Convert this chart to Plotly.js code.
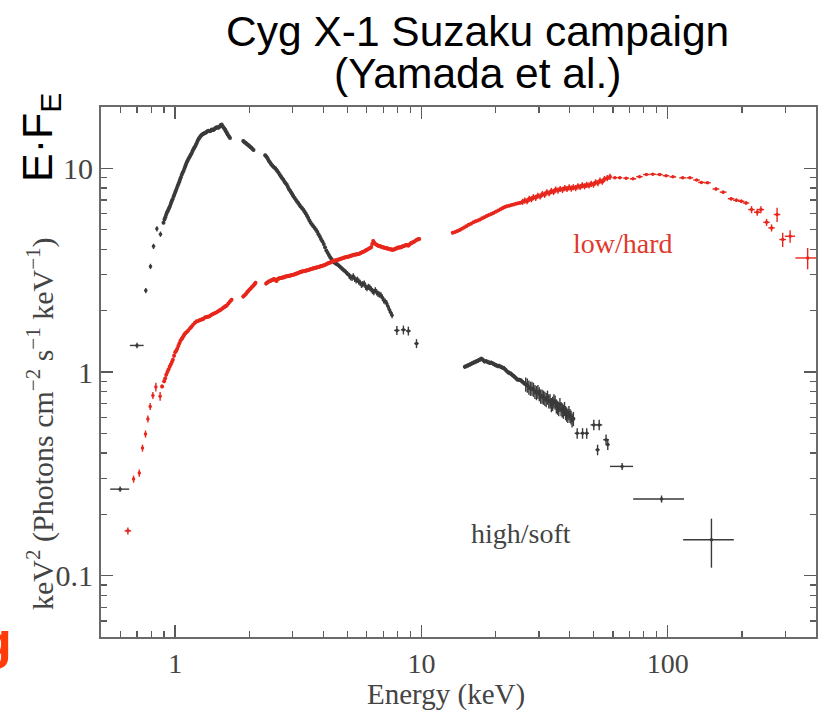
<!DOCTYPE html>
<html>
<head>
<meta charset="utf-8">
<script src="https://cdn.plot.ly/plotly-3.0.1.min.js"></script>
<style>html,body{margin:0;padding:0;background:#fff;}</style>
</head>
<body>
<div id="chart" style="width:819px;height:710px;"></div>
<script>
// Cyg X-1 broadband spectra (Suzaku XIS / HXD-PIN / HXD-GSO), E^2 F(E) in keV^2 photons cm^-2 s^-1 keV^-1

// ---------- high/soft state ----------
// XIS low-energy edge bins: energy (keV), flux, fractional flux error, energy half-width (keV)
const softEdgeE    = [0.598, 0.700, 0.760, 0.794, 0.817, 0.843, 0.872];
const softEdgeF    = [0.266, 1.35, 2.51, 3.30, 4.14, 5.05, 4.75];
const softEdgeFerr = [0.03, 0.03, 0.03, 0.03, 0.03, 0.03, 0.03];
const softEdgeEerr = [0.053, 0.045, 0.008, 0.008, 0.008, 0.008, 0.008];

// XIS continuum (percent error below)
const softXisE = [0.897,0.905,0.912,0.918,0.925,0.932,0.940,0.947,0.954,0.961,0.968,0.976,0.985,0.992,1.000,1.008,1.016,1.024,1.032,1.040,
  1.047,1.055,1.064,1.072,1.081,1.090,1.098,1.106,1.115,1.123,1.132,1.141,1.150,1.159,1.168,1.177,1.186,1.195,1.205,1.214,
  1.224,1.233,1.243,1.253,1.263,1.273,1.283,1.293,1.303,1.313,1.323,1.333,1.344,1.354,1.365,1.375,1.386,1.397,1.408,1.419,
  1.430,1.441,1.452,1.463,1.475,1.486,1.498,1.509,1.520,1.532,1.545,1.557,1.570,1.582,1.595,1.607,1.620,1.632,1.645,1.657,
  1.670,1.890,1.905,1.920,1.935,1.950,1.965,1.980,1.995,2.010,2.025,2.040,2.060,2.080,2.320,2.340,2.360,2.380,2.400,2.425,
  2.450,2.475,2.500,2.525,2.550,2.575,2.600,2.630,2.660,2.690,2.720,2.750,2.780,2.810,2.840,2.870,2.900,2.930,2.960,2.990,
  3.020,3.055,3.090,3.125,3.160,3.195,3.230,3.270,3.310,3.350,3.390,3.430,3.470,3.510,3.550,3.595,3.640,3.685,3.730,3.775,
  3.820,3.865,3.910,3.960,4.010,4.060,4.110,4.160,4.210,4.265,4.320,4.375,4.430,4.485,4.540,4.600,4.660,4.720,4.780,4.840,
  4.900,4.965,5.030];
const softXisF = [5.40,5.60,5.75,5.90,6.04,6.15,6.30,6.42,6.55,6.72,6.90,7.05,7.25,7.42,7.60,7.80,8.00,8.20,8.40,8.60,
  8.80,9.05,9.30,9.50,9.70,9.95,10.2,10.45,10.7,10.9,11.1,11.3,11.5,11.7,11.9,12.15,12.4,12.6,12.8,13.05,
  13.3,13.6,13.9,14.1,14.3,14.45,14.6,14.7,14.8,14.85,14.9,15.0,15.1,15.2,15.3,15.25,15.2,15.35,15.5,15.45,
  15.4,15.55,15.7,15.8,15.9,15.85,15.8,15.95,16.1,16.3,16.4,16.1,15.9,15.7,15.5,15.2,15.0,14.7,14.5,14.3,
  14.1,13.6,13.5,13.4,13.3,13.2,13.1,13.0,12.9,12.8,12.7,12.6,12.45,12.3,11.6,11.45,11.3,11.1,10.9,10.7,
  10.5,10.35,10.2,10.1,10.0,9.85,9.70,9.50,9.30,9.12,8.95,8.78,8.60,8.45,8.30,8.10,7.90,7.75,7.60,7.45,
  7.30,7.15,7.00,6.88,6.75,6.62,6.50,6.39,6.28,6.14,6.00,5.85,5.70,5.55,5.40,5.30,5.20,5.10,5.00,4.88,
  4.75,4.62,4.50,4.38,4.25,4.10,3.95,3.85,3.75,3.66,3.58,3.51,3.45,3.41,3.38,3.34,3.30,3.25,3.20,3.16,
  3.12,3.07,3.02];
const softXisPct = 1.6;

// XIS high-energy end, larger errors
const softXisTailE    = [5.10,5.16,5.23,5.29,5.36,5.43,5.50,5.57,5.64,5.71,5.78,5.86,5.94,6.01,6.09,6.17,6.25,6.33,6.41,6.50,
  6.58,6.67,6.76,6.85,6.94,7.03,7.12,7.22,7.31,7.41,7.50,7.60,7.95,8.45,8.85,9.55];
const softXisTailF    = [2.96,2.92,2.90,2.95,2.87,2.82,2.84,2.78,2.74,2.68,2.70,2.72,2.62,2.58,2.62,2.60,2.55,2.50,2.47,2.52,
  2.46,2.42,2.40,2.38,2.32,2.25,2.22,2.18,2.10,2.02,1.96,1.90,1.60,1.61,1.59,1.38];
const softXisTailFerr = [0.035,0.035,0.035,0.035,0.035,0.035,0.035,0.035,0.035,0.035,0.035,0.035,0.035,0.035,0.035,0.035,0.035,0.035,0.035,0.035,
  0.035,0.035,0.035,0.035,0.035,0.035,0.035,0.035,0.035,0.035,0.035,0.035,0.05,0.05,0.05,0.05];
const softXisTailEerr = [0,0,0,0,0,0,0,0,0,0,0,0,0,0,0,0,0,0,0,0,
  0,0,0,0,0,0,0,0,0,0,0,0,0.2,0.2,0.2,0.2];

// PIN, smooth part and noisy part
const softPinE = [15.0,15.25,15.5,15.75,16.0,16.25,16.5,16.75,17.0,17.25,17.5,17.75,18.0,18.3,18.6,18.9,19.2,19.5,19.8,20.1,
  20.4,20.7,21.0,21.35,21.7,22.05,22.4,22.75,23.1,23.45,23.8,24.15,24.5,24.9,25.3,25.7,26.1];
const softPinF = [1.06,1.07,1.08,1.09,1.10,1.11,1.12,1.13,1.14,1.15,1.16,1.15,1.13,1.13,1.12,1.11,1.11,1.10,1.09,1.08,
  1.07,1.07,1.06,1.05,1.04,1.02,1.00,0.99,0.98,0.965,0.95,0.935,0.92,0.915,0.91,0.895,0.88];
const softPinPct = 2.5;
const softPinNoisyE = [26.5,26.9,27.3,27.7,28.1,28.5,28.9,29.3,29.7,30.1,30.5,30.9,31.3,31.7,32.1,32.5,32.9,33.3,33.7,34.1,
  34.5,34.9,35.3,35.7,36.1,36.5,36.9,37.3,37.7,38.1,38.5,38.9,39.3,39.7,40.1,40.5,40.9,41.4];
const softPinNoisyF = [0.87,0.86,0.84,0.83,0.83,0.82,0.80,0.79,0.80,0.78,0.76,0.76,0.75,0.74,0.73,0.75,0.72,0.72,0.69,0.70,
  0.72,0.71,0.68,0.67,0.66,0.69,0.66,0.65,0.64,0.66,0.63,0.62,0.61,0.63,0.61,0.60,0.58,0.59];
const softPinNoisyPct = 8;

// PIN high end and GSO bins
const softHighE    = [42.9, 45.1, 46.9, 50.1, 52.7, 51.9, 56.2, 57.1, 65.3, 94.4, 150.5];
const softHighF    = [0.50, 0.50, 0.50, 0.55, 0.55, 0.415, 0.465, 0.44, 0.344, 0.238, 0.150];
const softHighFerr = [0.06, 0.06, 0.06, 0.06, 0.06, 0.06, 0.06, 0.06, 0.04, 0.04, 0.27];
const softHighEerr = [1.0, 1.0, 1.0, 1.5, 1.5, 1.0, 1.5, 1.0, 7, 22, 35];

// ---------- low/hard state ----------
const hardEdgeE    = [0.643, 0.678, 0.715, 0.737, 0.758, 0.775, 0.792, 0.812, 0.835, 0.869];
const hardEdgeF    = [0.166, 0.298, 0.319, 0.423, 0.496, 0.588, 0.678, 0.767, 0.844, 0.760];
const hardEdgeFerr = [0.04, 0.04, 0.04, 0.04, 0.04, 0.04, 0.04, 0.04, 0.05, 0.05];
const hardEdgeEerr = [0.02, 0.006, 0.006, 0.006, 0.006, 0.006, 0.006, 0.006, 0.006, 0.006];

const hardXisE = [0.885,0.902,0.911,0.920,0.930,0.940,0.950,0.960,0.970,0.979,0.990,1.000,1.010,1.020,1.030,1.040,1.050,1.060,1.070,1.080,
  1.090,1.100,1.115,1.130,1.150,1.165,1.180,1.200,1.220,1.240,1.260,1.280,1.300,1.320,1.340,1.360,1.380,1.405,1.430,1.455,
  1.480,1.505,1.530,1.555,1.580,1.600,1.620,1.645,1.670,1.695,1.890,1.915,1.940,1.960,1.980,2.005,2.030,2.055,2.080,2.100,
  2.120,2.340,2.370,2.400,2.430,2.460,2.490,2.520,2.550,2.580,2.610,2.640,2.670,2.700,2.735,2.770,2.805,2.840,2.875,2.910,
  2.945,2.980,3.020,3.060,3.100,3.140,3.180,3.220,3.260,3.300,3.345,3.390,3.435,3.480,3.525,3.570,3.615,3.660,3.710,3.760,
  3.810,3.860,3.910,3.960,4.015,4.070,4.125,4.180,4.235,4.290,4.350,4.410,4.470,4.530,4.590,4.650,4.715,4.780,4.845,4.910,
  4.975,5.040,5.110,5.180,5.250,5.320,5.395,5.470,5.545,5.620,5.695,5.770,5.850,5.930,6.010,6.090,6.170,6.250,6.310,6.370,
  6.430,6.500,6.575,6.650,6.725,6.800,6.880,6.960,7.045,7.130,7.215,7.300,7.390,7.480,7.570,7.660,7.755,7.850,7.945,8.040,
  8.140,8.240,8.340,8.440,8.545,8.650,8.755,8.860,8.970,9.080,9.190,9.300,9.420,9.550,9.675,9.800];
const hardXisF = [0.850,0.900,0.930,0.970,1.00,1.03,1.06,1.09,1.12,1.15,1.20,1.25,1.27,1.30,1.34,1.38,1.42,1.45,1.47,1.50,
  1.53,1.55,1.57,1.60,1.64,1.67,1.70,1.74,1.77,1.78,1.80,1.81,1.82,1.85,1.86,1.87,1.88,1.91,1.93,1.95,
  1.97,2.00,2.02,2.05,2.08,2.10,2.12,2.17,2.22,2.26,2.35,2.38,2.42,2.46,2.50,2.54,2.58,2.62,2.66,2.70,
  2.74,2.72,2.75,2.78,2.80,2.82,2.84,2.86,2.83,2.80,2.86,2.88,2.89,2.90,2.91,2.92,2.94,2.95,2.96,2.97,
  2.98,2.99,3.00,3.02,3.04,3.05,3.07,3.10,3.11,3.12,3.13,3.14,3.16,3.17,3.19,3.20,3.22,3.23,3.25,3.26,
  3.28,3.29,3.31,3.32,3.34,3.36,3.39,3.42,3.44,3.46,3.49,3.52,3.53,3.54,3.56,3.58,3.60,3.62,3.64,3.66,
  3.67,3.68,3.70,3.72,3.74,3.76,3.77,3.78,3.80,3.82,3.85,3.88,3.91,3.95,3.98,4.02,4.06,4.10,4.25,4.40,
  4.32,4.25,4.21,4.18,4.16,4.14,4.12,4.10,4.08,4.06,4.05,4.04,4.02,4.00,3.99,3.98,4.00,4.03,4.05,4.08,
  4.09,4.10,4.12,4.15,4.17,4.20,4.19,4.18,4.24,4.30,4.32,4.35,4.40,4.45,4.48,4.50];
const hardXisPct = 2.2;

const hardPinE = [13.4,13.7,14.0,14.3,14.6,14.9,15.2,15.55,15.9,16.25,16.6,16.95,17.3,17.65,18.0,18.4,18.8,19.2,19.6,20.05,
  20.5,20.95,21.4,21.8,22.2,22.7,23.2,23.7,24.2,24.7,25.2];
const hardPinF = [4.82,4.87,4.92,4.98,5.05,5.12,5.20,5.28,5.35,5.43,5.50,5.55,5.60,5.68,5.75,5.83,5.90,5.97,6.04,6.12,
  6.20,6.30,6.38,6.45,6.51,6.55,6.60,6.65,6.70,6.74,6.77];
const hardPinPct = 1.5;
const hardPinNoisyE = [25.75,26.3,26.85,27.4,27.95,28.5,29.1,29.7,30.35,31.0,31.65,32.3,33.0,33.7,34.4,35.1,35.85,36.6,37.4,38.2,
  39.0,39.8,40.6,41.4,42.3,43.2,44.1,45.0,45.95,46.9,47.9,48.9,49.95,51.0,52.05,53.1,54.25,55.4,56.8,58.3];
const hardPinNoisyF = [6.85,6.95,6.90,7.08,7.05,7.22,7.16,7.34,7.28,7.48,7.42,7.62,7.55,7.74,7.66,7.86,7.78,7.92,7.84,8.00,
  7.92,8.06,7.96,8.08,8.00,8.16,8.10,8.26,8.16,8.30,8.24,8.40,8.32,8.55,8.46,8.70,8.60,8.86,8.95,9.08];
const hardPinNoisyPct = 3.5;

// GSO bins
const hardGsoE    = [61.0,63.9,67.8,72.3,76.8,81.9,87.0,92.7,98.5,105,115,123,131,137,145,157,168,181,190,199,
  208,219,231,239,252,264,278,293,314,370];
const hardGsoF    = [9.00,9.00,8.95,8.88,9.10,9.32,9.35,9.32,9.20,9.08,8.98,8.98,8.76,8.53,8.49,7.92,7.64,7.09,6.97,6.89,
  6.76,6.27,6.09,6.27,5.43,5.10,5.93,4.47,4.64,3.63];
const hardGsoFerr = [0.012,0.012,0.012,0.012,0.012,0.012,0.012,0.012,0.012,0.012,0.012,0.012,0.012,0.012,0.012,0.02,0.02,0.02,0.02,0.02,
  0.02,0.04,0.04,0.04,0.04,0.04,0.08,0.08,0.07,0.12];
const hardGsoEerr = [1.4,1.5,1.8,2.2,2.3,2.5,2.6,2.8,3.0,3.3,3.6,3.8,4.0,4.2,4.5,5.0,5.3,5.6,5.8,6.0,
  6.3,6.6,7.0,7.2,7.5,8.0,8.5,9.0,15,40];

const softColor = '#3a3a3a';
const hardColor = '#e8261c';
const serif = 'Liberation Serif, Times New Roman, serif';
const sans = 'Liberation Sans, Arial, sans-serif';

// binned points with individual error bars
function binned(E, F, Ferr, Eerr, color) {
  return {
    type: 'scatter', mode: 'markers', x: E, y: F,
    marker: {color: color, size: 3.5, line: {width: 0}},
    error_y: {type: 'data', array: F.map((f, i) => f * Ferr[i]), color: color, thickness: 1.4, width: 0},
    error_x: {type: 'data', array: Eerr, color: color, thickness: 1.4, width: 0},
    showlegend: false, hoverinfo: 'x+y'
  };
}
// densely sampled continuum with a common percentage error
function continuum(E, F, pct, color) {
  return {
    type: 'scatter', mode: 'markers', x: E, y: F,
    marker: {color: color, size: 4, line: {width: 0}},
    error_y: {type: 'percent', value: pct, color: color, thickness: 1.4, width: 0},
    showlegend: false, hoverinfo: 'x+y'
  };
}

const traces = [
  binned(softEdgeE, softEdgeF, softEdgeFerr, softEdgeEerr, softColor),
  continuum(softXisE, softXisF, softXisPct, softColor),
  binned(softXisTailE, softXisTailF, softXisTailFerr, softXisTailEerr, softColor),
  continuum(softPinE, softPinF, softPinPct, softColor),
  continuum(softPinNoisyE, softPinNoisyF, softPinNoisyPct, softColor),
  binned(softHighE, softHighF, softHighFerr, softHighEerr, softColor),
  binned(hardEdgeE, hardEdgeF, hardEdgeFerr, hardEdgeEerr, hardColor),
  continuum(hardXisE, hardXisF, hardXisPct, hardColor),
  continuum(hardPinE, hardPinF, hardPinPct, hardColor),
  continuum(hardPinNoisyE, hardPinNoisyF, hardPinNoisyPct, hardColor),
  binned(hardGsoE, hardGsoF, hardGsoFerr, hardGsoEerr, hardColor)
];

const axisCommon = {
  type: 'log', showline: true, linecolor: '#6a6a6a', linewidth: 2, mirror: 'allticks',
  ticks: 'inside', ticklen: 12, tickwidth: 1.3, tickcolor: '#5a5a5a',
  showgrid: false, zeroline: false
};

// paper coordinates from pixel positions of the 715x530 plot area
const px = v => (v - 101) / 715;
const py = v => (637 - v) / 530;

const layout = {
  width: 819, height: 710,
  margin: {l: 101, r: 3, t: 107, b: 73},
  paper_bgcolor: '#fff', plot_bgcolor: '#fff',
  xaxis: Object.assign({}, axisCommon, {
    range: [Math.log10(0.5), Math.log10(400)],
    tickmode: 'array', tickvals: [1, 10, 100], ticktext: ['1', '10', '100'],
    tickfont: {family: serif, size: 28, color: '#444'},
    minor: {ticks: 'inside', ticklen: 6, tickwidth: 1.3, tickcolor: '#5a5a5a', tickmode: 'array',
            tickvals: [0.6,0.7,0.8,0.9,2,3,4,5,6,7,8,9,20,30,40,50,60,70,80,90,200,300,400]}
  }),
  yaxis: Object.assign({}, axisCommon, {
    range: [Math.log10(0.05), Math.log10(20)],
    tickmode: 'array', tickvals: [0.1, 1, 10], ticktext: ['0.1', '1', '10'],
    tickfont: {family: serif, size: 30, color: '#444'},
    minor: {ticks: 'inside', ticklen: 6, tickwidth: 1.3, tickcolor: '#5a5a5a', tickmode: 'array',
            tickvals: [0.06,0.07,0.08,0.09,0.2,0.3,0.4,0.5,0.6,0.7,0.8,0.9,2,3,4,5,6,7,8,9,20]}
  }),
  annotations: [
    {text: 'Cyg X-1 Suzaku campaign', xref: 'paper', yref: 'paper', x: px(478), y: py(31),
     xanchor: 'center', yanchor: 'middle', showarrow: false, font: {family: sans, size: 42.5, color: '#000'}},
    {text: '(Yamada et al.)', xref: 'paper', yref: 'paper', x: px(477), y: py(73),
     xanchor: 'center', yanchor: 'middle', showarrow: false, font: {family: sans, size: 42.5, color: '#000'}},
    {text: 'E·F<sub>E</sub>', xref: 'paper', yref: 'paper', x: px(40), y: py(137), textangle: -90,
     xanchor: 'center', yanchor: 'middle', showarrow: false, font: {family: sans, size: 43, color: '#000'}},
    {text: 'keV<sup>2</sup> (Photons cm<sup>−2</sup> s<sup>−1</sup> keV<sup>−1</sup>)', xref: 'paper', yref: 'paper',
     x: px(40), y: py(424), textangle: -90, xanchor: 'center', yanchor: 'middle', showarrow: false,
     font: {family: serif, size: 30, color: '#444'}},
    {text: 'Energy (keV)', xref: 'paper', yref: 'paper', x: px(446), y: py(694),
     xanchor: 'center', yanchor: 'middle', showarrow: false, font: {family: serif, size: 29, color: '#444'}},
    {text: 'low/hard', xref: 'paper', yref: 'paper', x: px(623), y: py(243),
     xanchor: 'center', yanchor: 'middle', showarrow: false, font: {family: serif, size: 28, color: '#e0392b'}},
    {text: 'high/soft', xref: 'paper', yref: 'paper', x: px(521), y: py(533),
     xanchor: 'center', yanchor: 'middle', showarrow: false, font: {family: serif, size: 28, color: '#444'}},
    {text: '<b>g</b>', xref: 'paper', yref: 'paper', x: px(14), y: py(640),
     xanchor: 'right', yanchor: 'middle', showarrow: false, font: {family: sans, size: 52, color: '#ff3b0a'}}
  ]
};

Plotly.newPlot('chart', traces, layout, {displayModeBar: false, staticPlot: true});
</script>
</body>
</html>
